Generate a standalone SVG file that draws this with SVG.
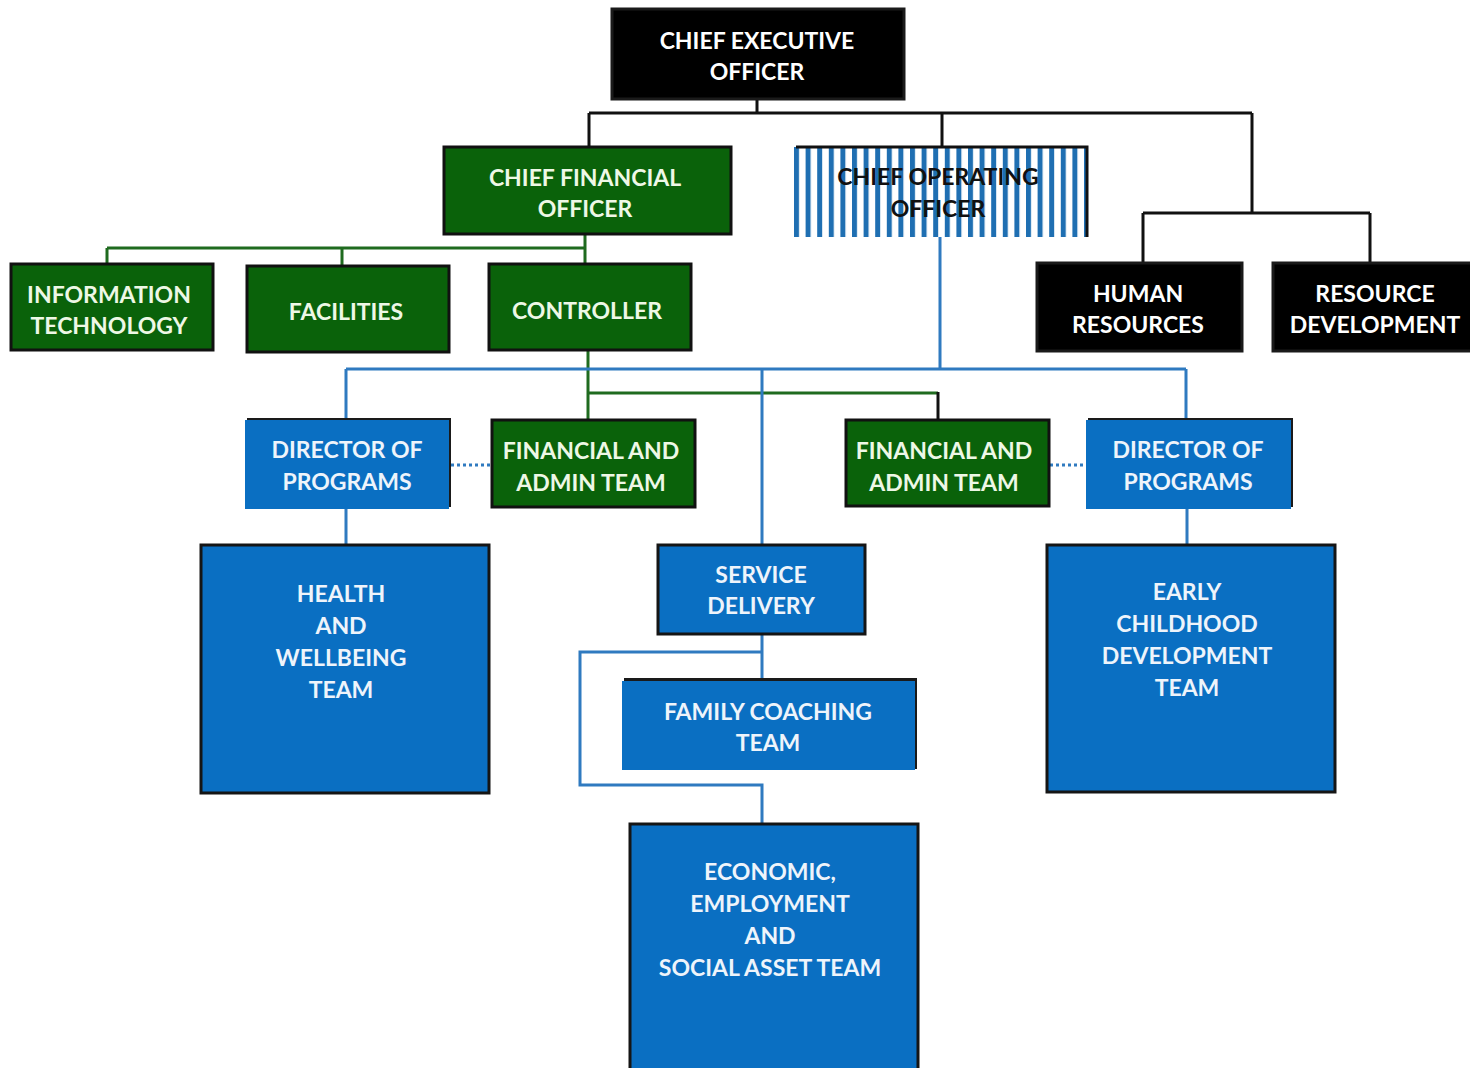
<svg xmlns="http://www.w3.org/2000/svg" width="1470" height="1068" viewBox="0 0 1470 1068">
  <defs>
    <pattern id="stripes" x="794" y="0" width="11.6" height="10" patternUnits="userSpaceOnUse">
      <rect x="0" y="0" width="5" height="10" fill="#1f6fb2"/>
    </pattern>
    <style>
      .t { font-family: Lato, "Liberation Sans", sans-serif; font-weight: bold; font-size: 23px; text-anchor: middle; }
      .w { fill: #ffffff; }
      .g { fill: #eef8e6; }
      .b { fill: #eef4fb; }
      .k { fill: #111111; }
      .black { fill: #000000; stroke: #1a1a1a; stroke-width: 3; }
      .green { fill: #0a620a; stroke: #111111; stroke-width: 3; }
      .blue { fill: #0a6fc2; stroke: #151515; stroke-width: 3; }
      .blueplain { fill: #0a6fc2; }
      .shadow { fill: #1a1a1a; }
      .ln { fill: none; stroke-width: 3; }
      .lk { stroke: #111111; }
      .lg { stroke: #1f6b1f; }
      .lb { stroke: #2f7ac0; }
      .dot { stroke: #2f7ac0; stroke-width: 3; stroke-dasharray: 3 3; fill: none; }
    </style>
  </defs>
  <rect width="1470" height="1068" fill="#ffffff"/>

  <!-- connectors -->
  <g id="connectors">
    <!-- executive level -->
    <path class="ln lk" d="M757 100 V113 M589 113 H1252 M589 113 V147 M942 113 V147 M1252 113 V213 M1143 213 H1370 M1143 213 V262 M1370 213 V262"/>
    <!-- finance branch -->
    <path class="ln lg" d="M585 234 V248 M107 248 H585 M107 248 V264 M342 248 V266 M585 248 V264"/>
    <path class="ln lg" d="M588 350 V420 M588 393 H938"/>
    <path class="ln lk" d="M938 392 V420"/>
    <!-- operations branch -->
    <path class="ln lb" d="M940 237 V369 M346 369 H1186 M346 369 V420 M1186 369 V420 M762 369 V545"/>
    <path class="ln lb" d="M346 509 V545 M1187 509 V545"/>
    <path class="ln lb" d="M762 634 V680 M762 652 H580 V785 H762 V824"/>
    <!-- dotted liaison lines -->
    <path class="dot" d="M451 465 H492 M1050 465 H1086"/>
  </g>

  <g id="ceo">
    <rect class="black" x="612" y="9" width="292" height="90"/>
    <text class="t w" x="757" y="49">CHIEF EXECUTIVE</text>
    <text class="t w" x="757" y="80">OFFICER</text>
  </g>

  <g id="cfo">
    <rect class="green" x="444" y="147" width="287" height="87"/>
    <text class="t g" x="585" y="186">CHIEF FINANCIAL</text>
    <text class="t g" x="585" y="217">OFFICER</text>
  </g>

  <g id="coo">
    <rect x="792" y="147" width="294" height="90" fill="url(#stripes)"/>
    <path class="ln lk" d="M796 147 H1087 V237"/>
    <text class="t k" x="938" y="185">CHIEF OPERATING</text>
    <text class="t k" x="938" y="217">OFFICER</text>
  </g>

  <g id="it">
    <rect class="green" x="11" y="264" width="202" height="86"/>
    <text class="t g" x="109" y="303">INFORMATION</text>
    <text class="t g" x="109" y="334">TECHNOLOGY</text>
  </g>

  <g id="facilities">
    <rect class="green" x="247" y="266" width="202" height="86"/>
    <text class="t g" x="346" y="320">FACILITIES</text>
  </g>

  <g id="controller">
    <rect class="green" x="489" y="264" width="202" height="86"/>
    <text class="t g" x="587" y="319">CONTROLLER</text>
  </g>

  <g id="human-resources">
    <rect class="black" x="1037" y="263" width="205" height="88"/>
    <text class="t w" x="1138" y="302">HUMAN</text>
    <text class="t w" x="1138" y="333">RESOURCES</text>
  </g>

  <g id="resource-development">
    <rect class="black" x="1273" y="263" width="199" height="88"/>
    <text class="t w" x="1375" y="302">RESOURCE</text>
    <text class="t w" x="1375" y="333">DEVELOPMENT</text>
  </g>

  <g id="director-programs-left">
    <rect class="shadow" x="247" y="418" width="204" height="89"/>
    <rect class="blueplain" x="245" y="420" width="204" height="89"/>
    <text class="t b" x="347" y="458">DIRECTOR OF</text>
    <text class="t b" x="347" y="490">PROGRAMS</text>
  </g>

  <g id="finance-admin-left">
    <rect class="green" x="492" y="420" width="203" height="87"/>
    <text class="t g" x="591" y="459">FINANCIAL AND</text>
    <text class="t g" x="591" y="491">ADMIN TEAM</text>
  </g>

  <g id="finance-admin-right">
    <rect class="green" x="846" y="420" width="203" height="86"/>
    <text class="t g" x="944" y="459">FINANCIAL AND</text>
    <text class="t g" x="944" y="491">ADMIN TEAM</text>
  </g>

  <g id="director-programs-right">
    <rect class="shadow" x="1088" y="418" width="205" height="89"/>
    <rect class="blueplain" x="1086" y="420" width="205" height="89"/>
    <text class="t b" x="1188" y="458">DIRECTOR OF</text>
    <text class="t b" x="1188" y="490">PROGRAMS</text>
  </g>

  <g id="health-wellbeing">
    <rect class="blue" x="201" y="545" width="288" height="248"/>
    <text class="t b" x="341" y="602">HEALTH</text>
    <text class="t b" x="341" y="634">AND</text>
    <text class="t b" x="341" y="666">WELLBEING</text>
    <text class="t b" x="341" y="698">TEAM</text>
  </g>

  <g id="service-delivery">
    <rect class="blue" x="658" y="545" width="207" height="89"/>
    <text class="t b" x="761" y="583">SERVICE</text>
    <text class="t b" x="761" y="614">DELIVERY</text>
  </g>

  <g id="family-coaching">
    <rect class="shadow" x="624" y="678" width="293" height="91"/>
    <rect class="blueplain" x="622" y="681" width="293" height="89"/>
    <text class="t b" x="768" y="720">FAMILY COACHING</text>
    <text class="t b" x="768" y="751">TEAM</text>
  </g>

  <g id="early-childhood">
    <rect class="blue" x="1047" y="545" width="288" height="247"/>
    <text class="t b" x="1187" y="600">EARLY</text>
    <text class="t b" x="1187" y="632">CHILDHOOD</text>
    <text class="t b" x="1187" y="664">DEVELOPMENT</text>
    <text class="t b" x="1187" y="696">TEAM</text>
  </g>

  <g id="economic-employment">
    <rect class="blue" x="630" y="824" width="288" height="250"/>
    <text class="t b" x="770" y="880">ECONOMIC,</text>
    <text class="t b" x="770" y="912">EMPLOYMENT</text>
    <text class="t b" x="770" y="944">AND</text>
    <text class="t b" x="770" y="976">SOCIAL ASSET TEAM</text>
  </g>
</svg>
